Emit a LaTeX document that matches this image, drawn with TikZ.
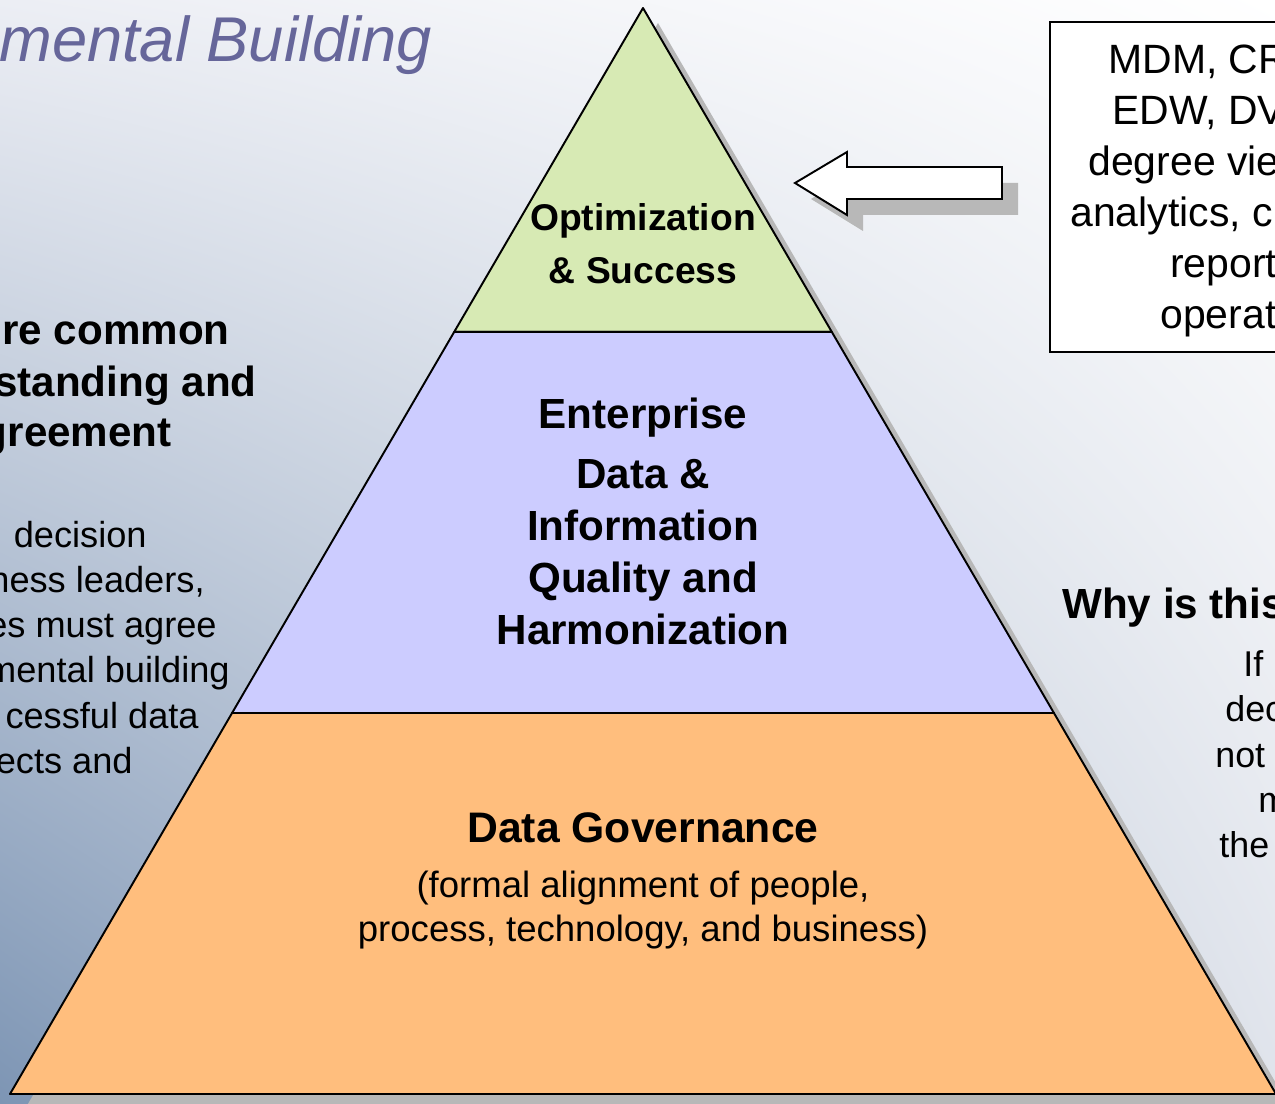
\documentclass[tikz,border=0pt]{standalone}
\usepackage{fontspec}
\setmainfont{Liberation Sans}
\usepackage{tikz}
\usetikzlibrary{calc, positioning, shadings}

\definecolor{ttl}{HTML}{66669A}
\definecolor{grn}{HTML}{D7EAB4}
\definecolor{lav}{HTML}{CCCCFF}
\definecolor{org}{HTML}{FFBE7D}
\definecolor{bgul}{HTML}{ECEEF4}
\definecolor{bgll}{HTML}{7D95B4}
\definecolor{bglr}{HTML}{DFE3EB}

\begin{document}
\begin{tikzpicture}[x=0.02cm, y=-0.02cm,
  layer/.style={draw, line width=1.1pt, line join=round},
  shd/.style={fill=black!28, draw=none},
  bigtxt/.style={font=\fontsize{24}{29.5}\selectfont\bfseries, align=center},
  smalltxt/.style={font=\fontsize{20.8}{25}\selectfont, align=center},
  boxtxt/.style={font=\fontsize{23.3}{29}\selectfont, anchor=base west, inner sep=0pt},
  sidetxt/.style={font=\fontsize{20.4}{25.5}\selectfont, anchor=base west, inner sep=0pt},
  lefthead/.style={font=\fontsize{24}{29}\selectfont\bfseries, anchor=base east, inner sep=0pt},
  lefttxt/.style={font=\fontsize{20.6}{25.5}\selectfont, anchor=base east, inner sep=0pt}]

\useasboundingbox (0,0) rectangle (1275,1104);
\clip (0,0) rectangle (1275,1104);

% background
\shade [upper left=bgul, upper right=white, lower left=bgll, lower right=bglr] (0,0) rectangle (1275,1104);

% pyramid corners
\coordinate (top) at (643,8);
\coordinate (bl)  at (10,1094);
\coordinate (br)  at (1276,1094);
\coordinate (l1)  at ($(top)!0.2983!(bl)$);
\coordinate (r1)  at ($(top)!0.2983!(br)$);
\coordinate (l2)  at ($(top)!0.6492!(bl)$);
\coordinate (r2)  at ($(top)!0.6492!(br)$);

% shadows
\fill [shd] ($(top)+(15,15)$) -- ($(l1)+(15,15)$) -- ($(r1)+(15,15)$) -- cycle;
\fill [shd] ($(l1)+(15,15)$) -- ($(r1)+(15,15)$) -- ($(r2)+(15,15)$) -- ($(l2)+(15,15)$) -- cycle;
\fill [shd] ($(l2)+(15,15)$) -- ($(r2)+(15,15)$) -- ($(br)+(15,15)$) -- ($(bl)+(15,15)$) -- cycle;

% layers
\path [layer, fill=grn] (top) -- (l1) -- (r1) -- cycle;
\path [layer, fill=lav] (l1) -- (r1) -- (r2) -- (l2) -- cycle;
\path [layer, fill=org] (l2) -- (r2) -- (br) -- (bl) -- cycle;

\node [bigtxt, font=\fontsize{21.2}{30}\selectfont\bfseries] (opt) at (643,244) {Optimization\\ \& Success};
\node [bigtxt] (ent) at (643,521) {Enterprise\\[5pt] Data \&\\ Information\\ Quality and\\ Harmonization};
\node [bigtxt, font=\fontsize{24.3}{29.5}\selectfont\bfseries] (gov) at (643,828) {Data Governance};
\node [smalltxt] (govsub) at (643,910) {(formal alignment of people,\\ process, technology, and business)};

% title
\node [font=\fontsize{36}{40}\selectfont\itshape, text=ttl, anchor=base west, inner sep=0pt] (title) at (-1,62) {mental Building};

% left text
\node [lefthead] (ag1) at (230,345) {re common};
\node [lefthead] (ag2) at (257,397) {standing and};
\node [lefthead] (ag3) at (172,447) {greement};

\node [lefttxt] (ld1) at (147,548) {decision};
\node [lefttxt] (ld2) at (205,593) {ness leaders,};
\node [lefttxt] (ld3) at (217,638) {es must agree};
\node [lefttxt] (ld4) at (230,683) {mental building};
\node [lefttxt] (ld5) at (199,728) {cessful data};
\node [lefttxt] (ld6) at (133,773) {ects and};

% arrow
\fill [shd] (811,199) -- (863,168) -- (863,183) -- (1018,183) -- (1018,215) -- (863,215) -- (863,231) -- cycle;
\draw [line width=1.1pt, fill=white, line join=miter] (795,183) -- (847,152) -- (847,167) -- (1002,167) -- (1002,199) -- (847,199) -- (847,215) -- cycle;

% box on the right
\draw [line width=0.8pt, fill=white] (1050,22) rectangle (1290,352);
\node [boxtxt] (b1) at (1108,74)  {MDM, CR};
\node [boxtxt] (b2) at (1112,125) {EDW, DV};
\node [boxtxt] (b3) at (1088,176) {degree vie};
\node [boxtxt] (b4) at (1070,227) {analytics, c};
\node [boxtxt] (b5) at (1170,278) {report};
\node [boxtxt] (b6) at (1160,329) {operat};

% why text
\node [font=\fontsize{24}{29}\selectfont\bfseries, anchor=base west, inner sep=0pt] (why) at (1062,619) {Why is this};
\node [sidetxt] (w1) at (1243,677) {If};
\node [sidetxt] (w2) at (1225,722) {dec};
\node [sidetxt] (w3) at (1215,767) {not};
\node [sidetxt] (w4) at (1258,812) {m};
\node [sidetxt] (w5) at (1219,857) {the};

\end{tikzpicture}
\end{document}
